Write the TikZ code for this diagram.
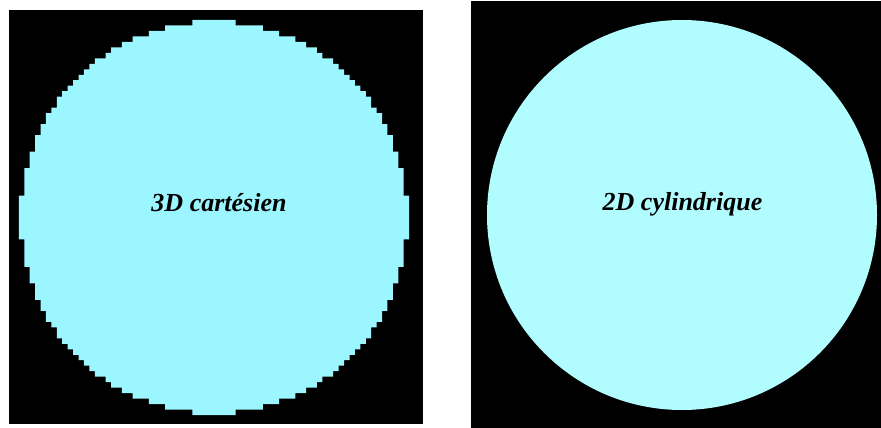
\documentclass[tikz,border=0pt]{standalone}
\usepackage{fontspec}
\setmainfont{Liberation Serif}
\usepackage{xcolor}
\usepackage{tikz}
\usetikzlibrary{positioning}

\definecolor{cartcyan}{RGB}{155,246,255}
\definecolor{cylcyan}{RGB}{176,252,255}

\begin{document}
\begin{tikzpicture}[
    x=1pt, y=-1pt,
    % --- styles ---
    bgsquare/.style={fill=black},
    lbl/.style={font=\fontsize{26}{30}\selectfont\bfseries\itshape,
        anchor=base, inner sep=0pt}
]
\useasboundingbox (0,0) rectangle (881,428);

%%% ================= LEFT: 3D CARTESIAN (pixel grid) =================
\fill[bgsquare] (9,10) rectangle (423,424);
\fill[cartcyan]
    \foreach \j [evaluate=\j as \n using {floor(sqrt(max(1275.9-(\j-35.5)^2,0))+0.5)}]
        in {0,...,71} {
        ({214-\n*5.42},{217.5+(\j-36)*5.49}) rectangle
        ({214+\n*5.42},{217.5+(\j-35)*5.49})
    };
\node (cartlbl) [lbl] at (219,211) {3D cartésien};

%%% ================= RIGHT: 2D CYLINDRICAL =================
\fill[bgsquare] (471,1) rectangle (880.5,428);
\fill[cylcyan] (682,215) circle (195);
\node (cyllbl) [lbl] at (682.5,210) {2D cylindrique};

\end{tikzpicture}
\end{document}
